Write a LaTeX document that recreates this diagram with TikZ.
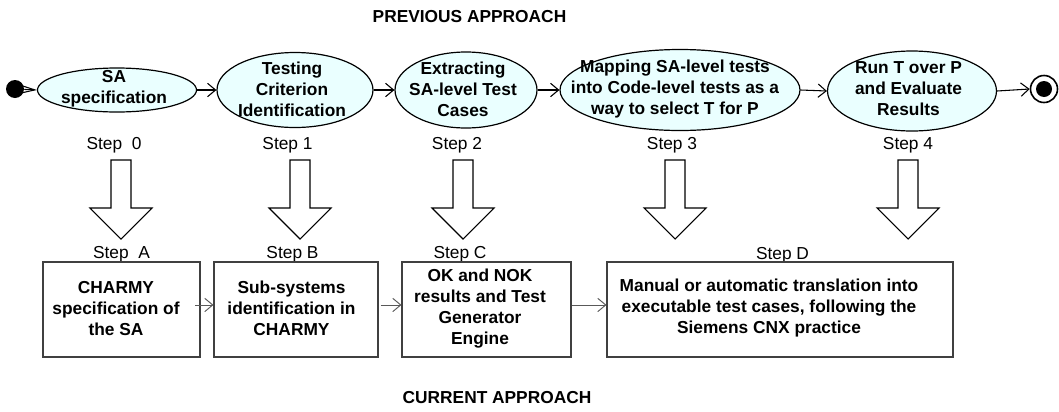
\documentclass[tikz,border=0pt]{standalone}
\usepackage{fontspec}
\setmainfont{Liberation Sans}
\usetikzlibrary{shapes.geometric,arrows.meta,calc}
\definecolor{ellfill}{RGB}{234,255,255}
\begin{document}
\begin{tikzpicture}[x=0.75pt,y=-0.75pt,
  ell/.style={ellipse,draw,line width=0.9pt,fill=ellfill,inner sep=0pt},
  etext/.style={font=\fontsize{13}{15.75}\selectfont\bfseries,align=center,inner sep=0pt},
  stext/.style={font=\fontsize{13}{15.75}\selectfont,anchor=base,inner sep=0pt},
  ttext/.style={font=\fontsize{13}{15.75}\selectfont\bfseries,inner sep=0pt},
  flow/.style={-{Straight Barb[length=6pt,width=10pt]},line width=0.8pt},
  blockarrow/.style={draw,line width=0.8pt,fill=white},
  bx/.style={rectangle,draw=black!75,line width=0.8pt,inner sep=0pt},
  bflow/.style={-{Straight Barb[length=6pt,width=10pt]},draw=black!65,line width=0.7pt},
]
\useasboundingbox (0,0) rectangle (1059,411);

% titles
\node[ttext] (t1) at (469.5,17) {PREVIOUS APPROACH};
\node[ttext] (t2) at (497,398) {CURRENT APPROACH};

% previous approach: ellipses
\node[circle,fill,minimum size=18*0.75pt,inner sep=0pt] (start) at (15,89) {};
\node[ell,minimum width=159*0.75pt,minimum height=44*0.75pt] (e1) at (117,90) {};
\node[ell,minimum width=156*0.75pt,minimum height=75*0.75pt] (e2) at (295,90) {};
\node[ell,minimum width=142*0.75pt,minimum height=76*0.75pt] (e3) at (466,90) {};
\node[ell,minimum width=240*0.75pt,minimum height=81*0.75pt] (e4) at (680,90) {};
\node[ell,minimum width=169*0.75pt,minimum height=80*0.75pt] (e5) at (912,91) {};
\node[circle,draw,line width=1.2pt,minimum size=27*0.75pt,inner sep=0pt] (end) at (1044,89) {};
\node[circle,fill,minimum size=16*0.75pt,inner sep=0pt] (endin) at (end.center) {};

\node[etext] (l1) at (114,89) {SA\\specification};
\node[etext] (l2) at (292,89) {Testing\\Criterion\\Identification};
\node[etext] (l3) at (463,89) {Extracting\\SA-level Test\\Cases};
\node[etext] (l4) at (675,89) {Mapping SA-level tests\\into Code-level tests as a\\way to select T for P};
\node[etext] (l5) at (908.5,89) {Run T over P\\and Evaluate\\Results};

\draw[-{Straight Barb[length=11pt,width=6pt]},line width=0.8pt] (start) -- (e1.west);
\draw[flow] (e1.east) -- (e2.west);
\draw[flow] (e2.east) -- (e3.west);
\draw[flow] (e3.east) -- (e4.west);
\draw[flow] (e4.east) -- (e5.west);
\draw[flow] (e5.east) -- (end.west);

% step labels
\node[stext] (s0) at (114,149) {Step\ \ 0};
\node[stext] (s1) at (287.5,149) {Step 1};
\node[stext] (s2) at (457,149) {Step 2};
\node[stext] (s3) at (672,149) {Step 3};
\node[stext] (s4) at (908,149) {Step 4};

% block arrows
\foreach \c in {121,300,463,675,908}
  \draw[blockarrow] (\c-10,160) -- (\c+10,160) -- (\c+10,208) -- (\c+31,208)
     -- (\c,239) -- (\c-31,208) -- (\c-10,208) -- cycle;

% current approach
\node[stext] (sa) at (121.5,258) {Step\ \ A};
\node[stext] (sb) at (292.5,258) {Step B};
\node[stext] (sc) at (460,258) {Step C};
\node[stext] (sd) at (782.5,259) {Step D};

\node[bx,minimum width=157*0.75pt,minimum height=95*0.75pt] (ba) at (121.5,309.5) {};
\node[bx,minimum width=164*0.75pt,minimum height=95*0.75pt] (bb) at (296,309.5) {};
\node[bx,minimum width=169*0.75pt,minimum height=95*0.75pt] (bc) at (486.5,309.5) {};
\node[bx,minimum width=346*0.75pt,minimum height=95*0.75pt] (bd) at (780,309.5) {};

\node[etext] (ta) at (116,308.5) {CHARMY\\specification of\\the SA};
\node[etext] (tb) at (291.5,308) {Sub-systems\\identification in\\CHARMY};
\node[etext] (tc) at (480,308.5) {OK and NOK\\results and Test\\Generator\\Engine};
\node[etext] (td) at (769,308.5) {Manual or automatic translation into\\executable test cases, following the\\Siemens CNX practice};

\draw[bflow] ([xshift=-4pt,yshift=3.4pt]ba.east) -- ([yshift=3.4pt]bb.west);
\draw[bflow] ([xshift=1.5pt,yshift=3.4pt]bb.east) -- ([yshift=3.4pt]bc.west);
\draw[bflow] ([yshift=3.4pt]bc.east) -- ([yshift=3.4pt]bd.west);
\end{tikzpicture}
\end{document}
